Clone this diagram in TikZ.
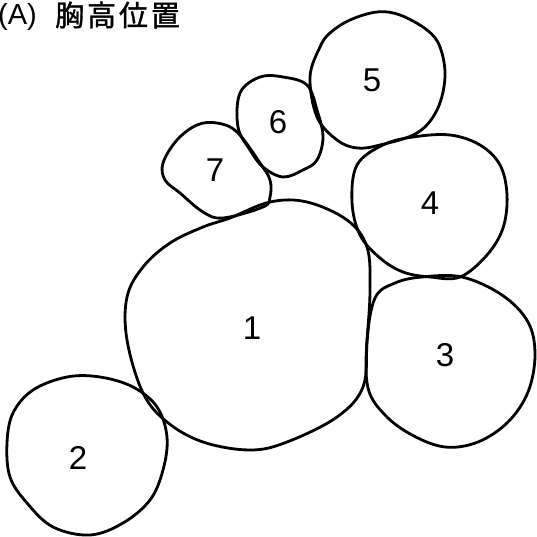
\documentclass[tikz,border=0pt]{standalone}
\usepackage{fontspec}
\setmainfont{Liberation Sans}
\newfontfamily\cjk[LetterSpace=10,FakeBold=1.2]{Noto Sans CJK JP}
\begin{document}
\begin{tikzpicture}[x=1pt,y=-1pt,
  blob/.style={draw=black,line width=2.8pt,line join=round},
  num/.style={font=\fontsize{33}{33}\selectfont,inner sep=0pt},
  ttl/.style={font=\fontsize{29}{29}\selectfont,inner sep=0pt,anchor=base west}]
\useasboundingbox (0,0) rectangle (536,537);
% shape 1
\draw[blob] plot[smooth cycle,tension=0.6] coordinates {
 (230,218) (270,202) (307,202) (347,220) (367,247) (370,290) (367,340) (363,387)
 (337,417) (287,442) (250,450) (203,442) (167,422) (143,393) (127,340) (127,297)
 (143,267) (170,243) (203,227)};
% shape 2
\draw[blob] plot[smooth cycle,tension=0.6] coordinates {
 (7,443) (13,413) (33,390) (67,377) (100,377) (133,387) (157,407) (167,437)
 (163,470) (150,500) (123,523) (90,535) (53,527) (27,503) (10,477)};
% shape 3
\draw[blob] plot[smooth cycle,tension=0.6] coordinates {
 (375,298) (367,342) (368,388) (385,415) (412,435) (445,447) (478,442) (508,422)
 (528,392) (535,355) (528,322) (502,295) (462,277) (422,277) (395,283)};
% shape 4
\draw[blob] plot[smooth cycle,tension=0.6] coordinates {
 (357,165) (352,202) (360,235) (380,258) (403,272) (430,277) (460,277) (487,255)
 (503,228) (507,195) (500,165) (480,145) (450,135) (413,137) (383,145)};
% shape 5
\draw[blob] plot[smooth cycle,tension=0.6] coordinates {
 (320,47) (310,77) (317,117) (337,140) (357,148) (380,145) (417,133) (437,110)
 (445,77) (440,47) (427,30) (400,15) (377,12) (350,20) (330,33)};
% shape 6
\draw[blob] plot[smooth cycle,tension=0.6] coordinates {
 (240,93) (260,77) (283,77) (307,85) (317,110) (323,137) (317,160) (303,170)
 (283,177) (263,167) (250,150) (238,127)};
% shape 7
\draw[blob] plot[smooth cycle,tension=0.6] coordinates {
 (163,163) (177,140) (197,125) (217,123) (237,132) (260,163) (270,180) (270,197)
 (263,207) (223,218) (203,212) (180,193) (165,180)};
% labels
\node[num] (n1) at (252,328) {1};
\node[num] (n2) at (78,458) {2};
\node[num] (n3) at (445,355) {3};
\node[num] (n4) at (430,203) {4};
\node[num] (n5) at (372,80) {5};
\node[num] (n6) at (278,122) {6};
\node[num] (n7) at (215,170) {7};
\node[ttl] (ttlA) at (-2,25) {(A)};
\node[ttl] (ttlB) at (55,26) {\cjk 胸高位置};
\end{tikzpicture}
\end{document}
